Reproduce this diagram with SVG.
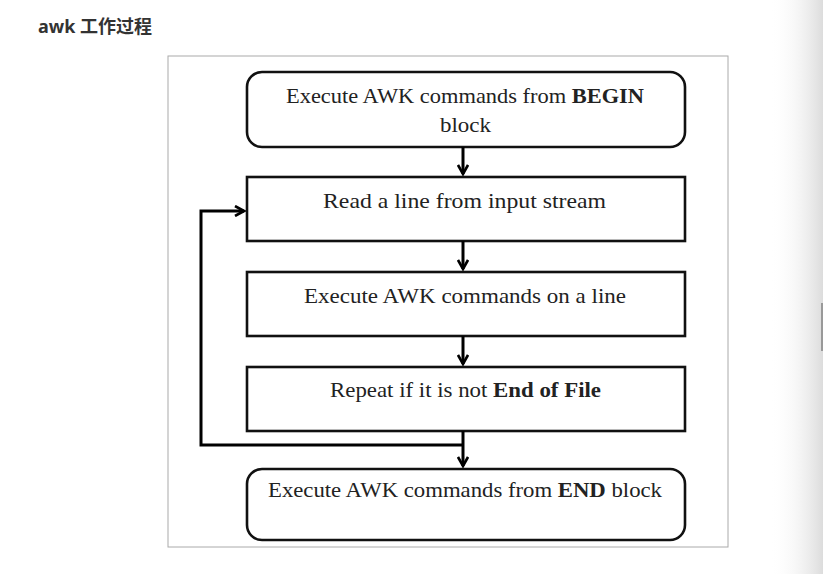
<svg xmlns="http://www.w3.org/2000/svg" width="823" height="574" viewBox="0 0 823 574">
<defs>
<linearGradient id="sh" x1="0" y1="0" x2="1" y2="0">
<stop offset="0" stop-color="#ffffff" stop-opacity="0"/>
<stop offset="1" stop-color="#dcdcdc"/>
</linearGradient>
<marker id="chev" viewBox="0 0 12 12" refX="10" refY="6" markerWidth="12" markerHeight="12" markerUnits="userSpaceOnUse" orient="auto">
<path d="M1,1 L10,6 L1,11" fill="none" stroke="#000" stroke-width="2.6"/>
</marker>
<style>
.box{fill:#fff;stroke:#111;stroke-width:2.6}
.lbl{font-family:"Liberation Serif","DejaVu Serif",serif;font-size:21.5px;fill:#222;text-anchor:middle}
.b{font-weight:bold}
.con{fill:none;stroke:#000;stroke-width:3}
</style>
</defs>
<rect width="823" height="574" fill="#fff"/>
<rect x="770" y="0" width="53" height="574" fill="url(#sh)"/>
<rect x="821" y="303" width="2" height="48" fill="#999"/>
<text x="38" y="33" font-family="'Noto Sans','Noto Sans CJK SC',sans-serif" font-size="18" font-weight="bold" fill="#333">awk 工作过程</text>
<rect x="168" y="56" width="560" height="491" fill="#fff" stroke="#aaa" stroke-width="1"/>
<g id="n1"><rect class="box" x="247" y="72" width="438" height="75" rx="15"/>
<text class="lbl" x="465" y="103" textLength="358" lengthAdjust="spacingAndGlyphs">Execute AWK commands from <tspan class="b">BEGIN</tspan></text>
<text class="lbl" x="465.5" y="132" textLength="51" lengthAdjust="spacingAndGlyphs">block</text></g>
<g id="n2"><rect class="box" x="247" y="177" width="438" height="64"/>
<text class="lbl" x="464.5" y="208" textLength="283" lengthAdjust="spacingAndGlyphs">Read a line from input stream</text></g>
<g id="n3"><rect class="box" x="247" y="272" width="438" height="64"/>
<text class="lbl" x="465" y="303" textLength="322" lengthAdjust="spacingAndGlyphs">Execute AWK commands on a line</text></g>
<g id="n4"><rect class="box" x="247" y="367" width="438" height="64"/>
<text class="lbl" x="465.5" y="397" textLength="271" lengthAdjust="spacingAndGlyphs">Repeat if it is not <tspan class="b">End of File</tspan></text></g>
<g id="n5"><rect class="box" x="247" y="469" width="438" height="71" rx="15"/>
<text class="lbl" x="465" y="497" textLength="394" lengthAdjust="spacingAndGlyphs">Execute AWK commands from <tspan class="b">END</tspan> block</text></g>
<g id="connectors">
<path class="con" d="M463,147 V174" marker-end="url(#chev)"/>
<path class="con" d="M463,241 V269" marker-end="url(#chev)"/>
<path class="con" d="M463,336 V364" marker-end="url(#chev)"/>
<path class="con" d="M463,431 V466" marker-end="url(#chev)"/>
<path class="con" d="M463,445 H201 V211 H244" marker-end="url(#chev)"/>
</g>
</svg>
